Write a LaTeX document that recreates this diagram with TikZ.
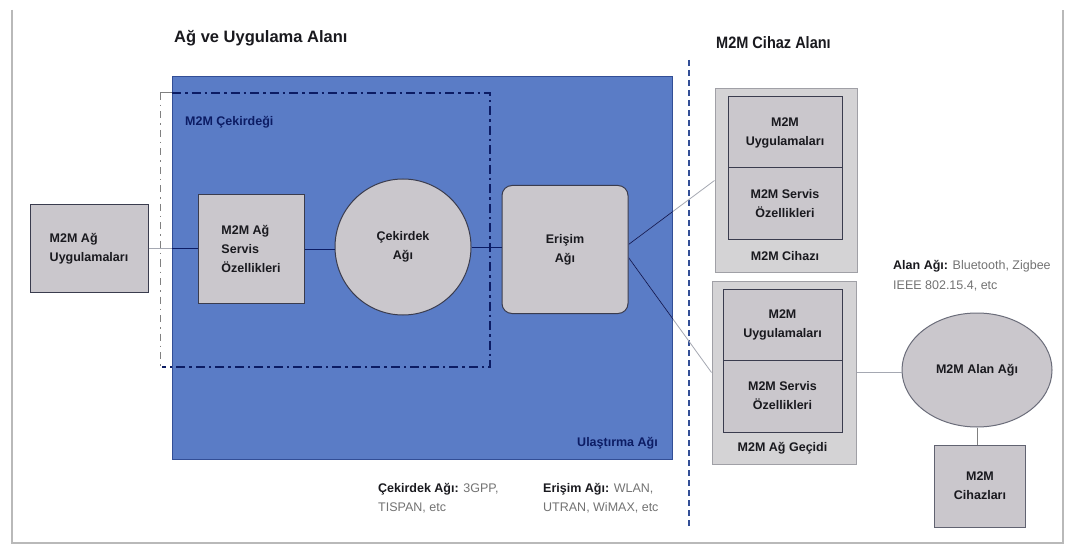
\documentclass[tikz,border=0pt]{standalone}
\usepackage{fontspec}
\setmainfont{Liberation Sans}
\newfontfamily\narrowfont[FakeStretch=0.88]{Liberation Sans}
\usetikzlibrary{shapes.geometric}
\definecolor{bluefill}{RGB}{90,124,198}
\definecolor{blueedge}{RGB}{50,78,150}
\definecolor{navy}{RGB}{12,28,100}
\definecolor{nodefill}{RGB}{202,199,204}
\definecolor{nodeedge}{RGB}{58,60,78}
\definecolor{outerfill}{RGB}{212,211,213}
\definecolor{outeredge}{RGB}{160,160,166}
\definecolor{txtgray}{RGB}{115,115,115}
\definecolor{framegray}{RGB}{185,185,185}
\definecolor{linegray}{RGB}{165,168,178}
\definecolor{textdark}{RGB}{25,25,30}
\tikzset{
  box/.style={draw=nodeedge, fill=nodefill, line width=1pt, inner sep=0pt,
    text=textdark, font=\fontsize{12.5}{19}\selectfont\bfseries, align=center},
  outerbox/.style={draw=outeredge, fill=outerfill, line width=1pt, inner sep=0pt},
  lbl/.style={inner sep=0pt, text=textdark, font=\fontsize{12.5}{19}\selectfont\bfseries},
  navylbl/.style={inner sep=0pt, text=navy, font=\fontsize{12.5}{19}\selectfont\bfseries},
  note/.style={inner sep=0pt, text=txtgray, align=left, font=\fontsize{12.5}{19.5}\selectfont},
  title/.style={inner sep=0pt, text=textdark, font=\fontsize{16.5}{20}\selectfont\bfseries},
  title2/.style={inner sep=0pt, text=textdark, font=\fontsize{16.5}{20}\selectfont\narrowfont\bfseries},
  conn/.style={draw=linegray, line width=0.8pt},
  connin/.style={draw=navy, line width=0.8pt},
}
\begin{document}
\begin{tikzpicture}[x=1pt,y=-1pt]
\useasboundingbox (0,0) rectangle (1070,545);
\fill[white] (0,0) rectangle (1070,545);
% frame
\draw[framegray, line width=1.3pt] (12,10) -- (12,543) -- (1063,543) -- (1063,10);

% titles
\node[title, anchor=west] (t1) at (174,38) {Ağ ve Uygulama Alanı};
\node[title2, anchor=west] (t2) at (716,43) {M2M Cihaz Alanı};

% transport network area
\node[draw=blueedge, fill=bluefill, line width=0.8pt, minimum width=500pt, minimum height=383pt,
      inner sep=0pt, anchor=north west] (ua) at (172,76) {};
\node[navylbl, anchor=east] (ual) at (658,443) {Ulaştırma Ağı};

% M2M core dash-dot frame
\draw[gray, line width=1pt, dash pattern=on 7pt off 5pt on 1.5pt off 5pt] (160,93) -- (160,367);
\draw[gray, line width=1pt] (160,93) -- (172,93);
\draw[navy, line width=2.4pt, dash pattern=on 9pt off 4pt on 2.5pt off 4pt]
  (172,93) -- (490,93) -- (490,367) -- (162,367);
\node[navylbl, anchor=west] (cek) at (185,122) {M2M Çekirdeği};

% domain separator
\draw[blueedge, line width=1.3pt, dash pattern=on 6pt off 4pt] (689,60) -- (689,527);

% network domain nodes
\node[box, minimum width=118pt, minimum height=87pt, align=left] (app) at (89,248.5) {M2M Ağ\\Uygulamaları};
\node[box, minimum width=106pt, minimum height=108pt, align=left] (svc) at (251,249) {M2M Ağ\\Servis\\Özellikleri};
\node[box, circle, minimum size=136pt] (core) at (403,247) {Çekirdek\\Ağı};
\node[box, rounded corners=10pt, minimum width=126pt, minimum height=128pt] (er) at (565,249.5) {Erişim\\Ağı};

% device 1
\node[outerbox, minimum width=142pt, minimum height=183pt] (d1) at (786,180.5) {};
\node[box, minimum width=114pt, minimum height=71pt] (d1a) at (785,132.5) {M2M\\Uygulamaları};
\node[box, minimum width=114pt, minimum height=72pt] (d1b) at (785,204) {M2M Servis\\Özellikleri};
\node[lbl] (d1l) at (785,256) {M2M Cihazı};

% device 2 (gateway)
\node[outerbox, minimum width=144pt, minimum height=183pt] (d2) at (784,372.5) {};
\node[box, minimum width=119pt, minimum height=71pt] (d2a) at (782.5,324.5) {M2M\\Uygulamaları};
\node[box, minimum width=119pt, minimum height=72pt] (d2b) at (782.5,396) {M2M Servis\\Özellikleri};
\node[lbl] (d2l) at (782.5,448) {M2M Ağ Geçidi};

% area network
\node[box, ellipse, draw=nodeedge!75, minimum width=150pt, minimum height=114pt] (alan) at (977,370) {M2M Alan Ağı};
\node[box, draw=nodeedge!80, minimum width=91pt, minimum height=82pt] (cih) at (980,486) {M2M\\Cihazları};

% notes
\node[note, anchor=west] (n1) at (893,275.5) {{\color{textdark}\bfseries Alan Ağı:} Bluetooth, Zigbee\\IEEE 802.15.4, etc};
\node[note, anchor=west] (n2) at (378,498) {{\color{textdark}\bfseries Çekirdek Ağı:} 3GPP,\\TISPAN, etc};
\node[note, anchor=west] (n3) at (543,498) {{\color{textdark}\bfseries Erişim Ağı:} WLAN,\\UTRAN, WiMAX, etc};

% connectors (grey outside the transport area)
\coordinate (e1) at ([yshift=5pt]er.east);
\coordinate (e2) at ([yshift=-8pt]er.east);
\draw[conn] (app.east) -- (app.east -| svc.west);
\draw[conn] (e1) -- (d1.west);
\draw[conn] (e2) -- (d2.west);
\draw[conn] (d2.east) -- (d2.east -| alan.west);
\draw[conn, draw=gray] (alan.south) -- (alan.south |- cih.north);
% connectors inside the transport area (dark)
\begin{scope}
\clip (ua.north west) rectangle (ua.south east);
\draw[connin] (app.east) -- (app.east -| svc.west);
\draw[connin] (e1) -- (d1.west);
\draw[connin] (e2) -- (d2.west);
\end{scope}
\draw[connin] (svc.east) -- (svc.east -| core.west);
\draw[connin] (core.east) -- (core.east -| er.west);
\end{tikzpicture}
\end{document}
